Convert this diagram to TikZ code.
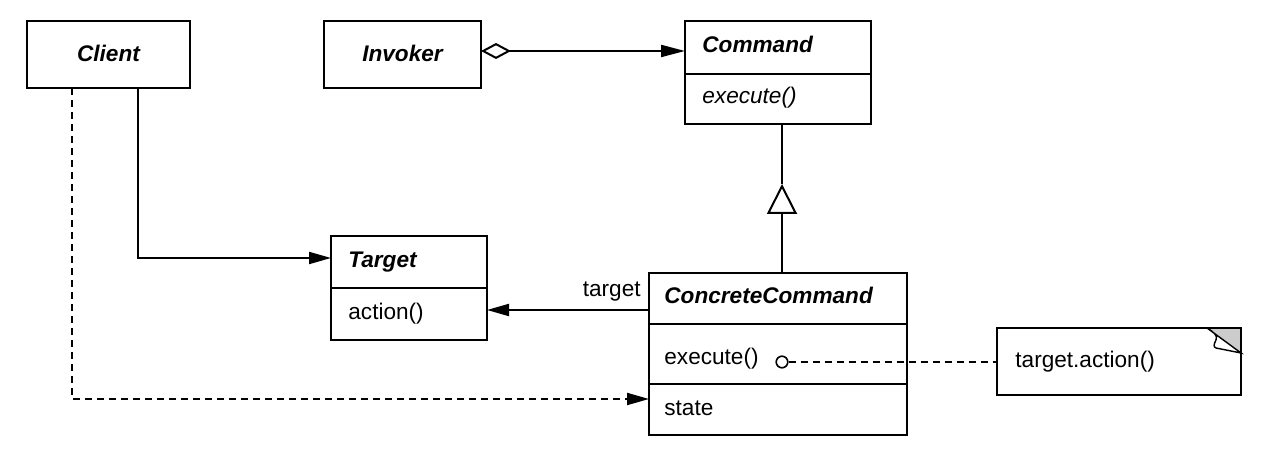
\documentclass[tikz,border=0pt]{standalone}
\usepackage{fontspec}
\setmainfont{Liberation Sans}
\usetikzlibrary{arrows.meta,fit}
\begin{document}
\begin{tikzpicture}[x=0.5pt,y=-0.5pt,
  box/.style={draw, line width=1pt, inner sep=0pt, outer sep=0pt},
  txt/.style={anchor=base west, inner sep=0pt, font=\fontsize{11.3}{13}\selectfont},
  cls/.style={txt, font=\fontsize{11.3}{13}\selectfont\bfseries\itshape},
  conn/.style={line width=1pt},
  tip/.style={-{Triangle[length=11pt,width=6pt]}},
  dsh/.style={dash pattern=on 3.5pt off 2.5pt}]
\useasboundingbox (0,0) rectangle (1264,474);
% classes
\node[box, fit={(27,21) (190,88)}] (client) {};
\node[cls, anchor=base] (clientname) at (108.5,62) {Client};
\node[box, fit={(324,21) (481,88)}] (invoker) {};
\node[cls, anchor=base] (invokername) at (402.5,62) {Invoker};
\node[box, fit={(685,21) (871,124)}] (command) {};
\draw[conn] (685,74) -- (871,74);
\node[cls] (commandname) at (702,53) {Command};
\node[txt, font=\fontsize{11.3}{13}\selectfont\itshape] (commandop) at (702,104) {execute()};
\node[box, fit={(331,236) (487,340)}] (target) {};
\draw[conn] (331,288) -- (487,288);
\node[cls] (targetname) at (348,268) {Target};
\node[txt] (targetop) at (348,320) {action()};
\node[box, fit={(649,273) (907,435)}] (cc) {};
\draw[conn] (649,324) -- (907,324);
\draw[conn] (649,384) -- (907,384);
\node[cls] (ccname) at (664,304) {ConcreteCommand};
\node[txt] (ccop) at (664,365) {execute()};
\node[txt] (ccstate) at (664,416) {state};
% note
\node[inner sep=0pt, outer sep=0pt, fit={(997,328) (1241,395)}] (note) {};
\fill[gray!40] (1207,328) -- (1241,328) -- (1241,353) -- cycle;
\draw[line width=0.7pt, fill=white] (1207,328) .. controls (1214,332) and (1218,336) .. (1216,340) .. controls (1214,344) and (1213,347) .. (1216,348) .. controls (1226,350) .. (1241,353) -- cycle;
\draw[box] (note.north west) rectangle (note.south east);
\node[txt] (notetext) at (1015,368) {target.action()};
% helper coordinates
\coordinate (x72) at (72,0);
\coordinate (x138) at (138,0);
\coordinate (y51) at (0,51);
\coordinate (y258) at (0,258);
\coordinate (y310) at (0,310);
\coordinate (y399) at (0,399);
\coordinate (inh) at (782,184);
% connectors
\draw[conn, {Diamond[open,length=15pt,width=8pt]}-{Triangle[length=12pt,width=6pt]}] (invoker.east |- y51) -- (command.west |- y51);
\draw[conn, tip] (client.south -| x138) |- (target.west |- y258);
\draw[conn, tip, dsh] (client.south -| x72) |- (cc.west |- y399);
\draw[conn, tip] (cc.west |- y310) -- (target.east |- y310);
\node[txt, anchor=base east] (rolelabel) at (641,297) {target};
\draw[conn] (inh) -- (command.south -| inh);
\draw[conn, -{Triangle[open,length=15pt,width=15pt]}] (cc.north -| inh) -- (inh);
\node[draw, circle, minimum size=5.8pt, inner sep=0pt, line width=0.8pt, fill=white] (circ) at (782,362) {};
\draw[conn, dsh] (circ) -- (note.west |- circ);
\end{tikzpicture}
\end{document}
